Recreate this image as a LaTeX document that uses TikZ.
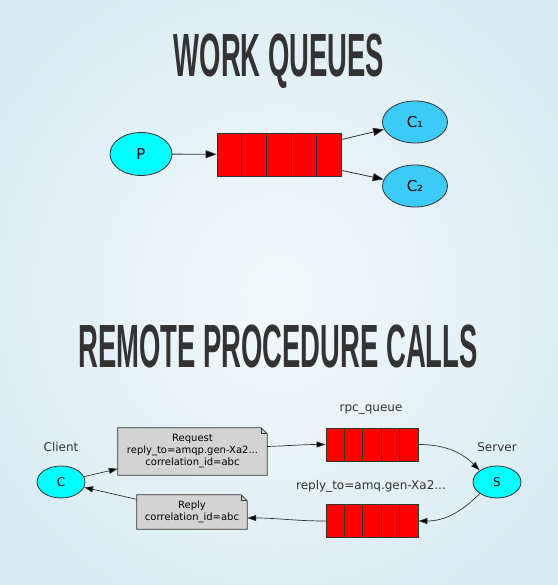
\documentclass[tikz,border=0pt]{standalone}
\usepackage{fontspec}
\setmainfont{DejaVu Sans}
\newfontfamily\titlefont{Liberation Sans}[FakeStretch=0.45]
\usetikzlibrary{shapes.geometric,arrows.meta,calc}
\definecolor{bgin}{HTML}{F3F9FB}
\definecolor{bgout}{HTML}{D8ECF3}
\definecolor{ttl}{HTML}{333333}
\definecolor{edge}{HTML}{333333}
\definecolor{prodcyan}{HTML}{00FFFF}
\definecolor{cons}{HTML}{3CCBF7}
\definecolor{qred}{HTML}{FF0000}
\definecolor{notegray}{HTML}{D3D3D3}
\tikzset{
  titletext/.style={font=\titlefont\bfseries\fontsize{61}{61}\selectfont, text=ttl, anchor=base, inner sep=0pt},
  prod/.style={ellipse, draw=edge, line width=0.8pt, fill=prodcyan, inner sep=0pt},
  consumer/.style={ellipse, draw=edge, line width=0.8pt, fill=cons, inner sep=0pt, minimum width=65pt, minimum height=42pt, font=\fontsize{15}{15}\selectfont},
  queuebox/.style={rectangle, draw=edge, line width=0.8pt, fill=qred, inner sep=0pt},
  notebox/.style={rectangle, inner sep=0pt, align=center, font=\fontsize{10}{12}\selectfont, text=black},
  lbl/.style={font=\fontsize{12}{12}\selectfont, text=edge, inner sep=0pt},
  bigarr/.style={draw=edge, line width=0.8pt, -{Triangle[length=11pt,width=8pt,fill=black]}},
  smallarr/.style={draw=edge, line width=0.7pt, -{Triangle[length=9pt,width=6pt,fill=black]}},
}
\begin{document}
\begin{tikzpicture}[x=1pt,y=-1pt]
\useasboundingbox (0,0) rectangle (557,585);
\shade[inner color=bgin, outer color=bgout] (-60,-60) rectangle (617,645);

% titles
\node[titletext] (t1) at (279,77) {WORK QUEUES};
\node[titletext] (t2) at (278,367) {REMOTE PROCEDURE CALLS};

% work queues
\node[prod, minimum width=62pt, minimum height=43pt, font=\fontsize{15}{15}\selectfont] (P) at (141,154) {P};
\node[queuebox, minimum width=124pt, minimum height=43pt] (q) at (279,154.5) {};
\foreach \i in {1,...,4}
  \draw[edge, line width=0.8pt] ($(q.north west)!\i/5!(q.north east)$) -- ($(q.south west)!\i/5!(q.south east)$);
\node[consumer] (C1) at (415,122) {C₁};
\node[consumer] (C2) at (415,186) {C₂};
\coordinate (qa) at ($(q.north east)+(0,7)$);
\coordinate (qb) at ($(q.south east)+(0,-6)$);
\draw[bigarr] (P) -- (q);
\draw[bigarr] (qa) -- (C1);
\draw[bigarr] (qb) -- (C2);

% RPC
\node[prod, minimum width=48pt, minimum height=32pt, font=\fontsize{12}{12}\selectfont] (C) at (61,482) {C};
\node[lbl] (cl) at (61,447) {Client};
\node[prod, minimum width=48pt, minimum height=32pt, font=\fontsize{12}{12}\selectfont] (S) at (497,482) {S};
\node[lbl] (sl) at (497,447) {Server};

\node[notebox, minimum width=149pt, minimum height=47pt] (req) at (192.5,451.5) {};
\node[notebox, minimum width=110pt, minimum height=34pt] (rep) at (192,512) {};
\foreach \n in {req,rep}{
  \filldraw[draw=edge, fill=notegray, line width=0.7pt] (\n.north west) -- ($(\n.north east)+(-6,0)$) -- ($(\n.north east)+(0,6)$) -- (\n.south east) -- (\n.south west) -- cycle;
  \draw[edge, line width=0.7pt] ($(\n.north east)+(-6,0)$) -- ($(\n.north east)+(-6,6)$) -- ($(\n.north east)+(0,6)$);
}
\node[notebox] (reqt) at (req) {Request\\reply\_to=amqp.gen-Xa2...\\correlation\_id=abc};
\node[notebox] (rept) at (rep) {Reply\\correlation\_id=abc};

\node[queuebox, minimum width=92pt, minimum height=33pt] (rq) at (372,444.5) {};
\node[queuebox, minimum width=92pt, minimum height=33pt] (pq) at (372,521) {};
\foreach \n in {rq,pq}{
  \foreach \i in {1,...,4}
    \draw[edge, line width=0.8pt] ($(\n.north west)!\i/5!(\n.north east)$) -- ($(\n.south west)!\i/5!(\n.south east)$);
}
\node[lbl] (rql) at (371,410) {rpc\_queue};
\node[lbl] (pql) at (371,486) {reply\_to=amq.gen-Xa2...};

\coordinate (reqr) at ($(req.east)+(0,-5)$);
\coordinate (repr) at ($(rep.east)+(0,6)$);
\draw[smallarr] (C) -- (req);
\draw[smallarr] (rep) -- (C);
\draw[smallarr] (reqr) to[out=2,in=180] (rq.west);
\draw[smallarr] (rq.east) to[out=0,in=135] (S.north west);
\draw[smallarr] (S.south west) to[out=225,in=0] (pq.east);
\draw[smallarr] (pq.west) to[out=180,in=0] (repr);
\end{tikzpicture}
\end{document}
